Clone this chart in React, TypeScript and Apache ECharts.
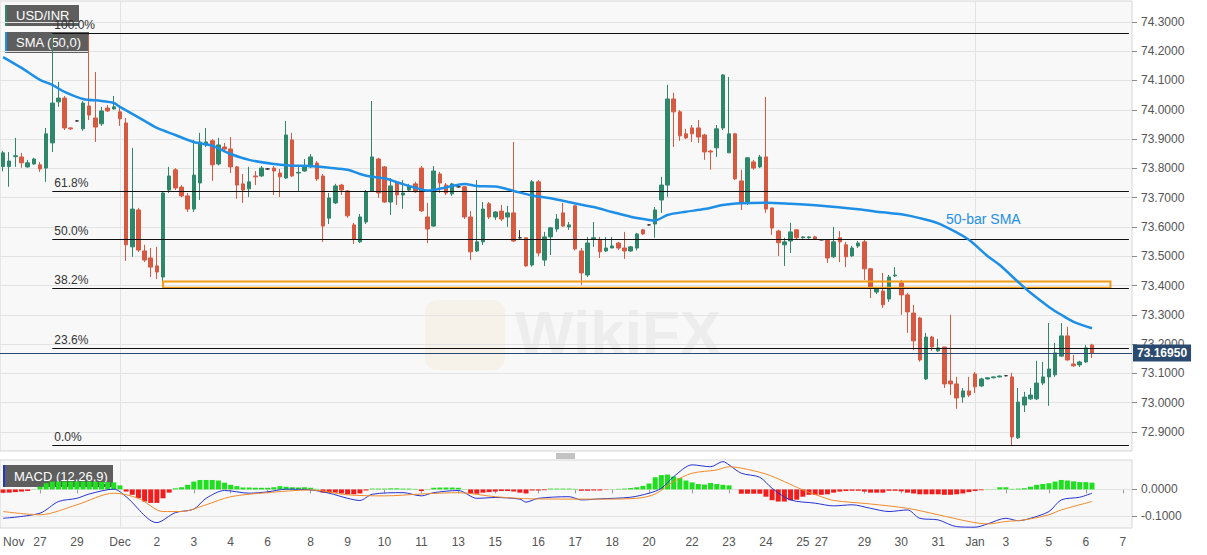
import React, { useEffect, useRef } from 'react';
import * as echarts from 'echarts';

// ---------- data ----------
const dayLabels = ['Nov', '27', '29', 'Dec', '2', '3', '4', '6', '8', '9', '10', '11', '13', '15', '16', '17', '18', '20', '22', '23', '24', '25', '27', '29', '30', '31', 'Jan', '3', '5', '6', '7'];
const dayLabelIdx = [0, 6, 12, 19, 25, 31, 37, 43, 50, 56, 62, 68, 74, 80, 87, 93, 99, 105, 112, 118, 124, 130, 133, 140, 146, 152, 158, 163, 170, 176, 182];

// [open, high, low, close]
const ohlc: number[][] = [
  [73.806, 73.860, 73.790, 73.853], [73.806, 73.856, 73.737, 73.825], [73.840, 73.904, 73.805, 73.843], [73.839, 73.853, 73.802, 73.819],
  [73.805, 73.829, 73.802, 73.819], [73.815, 73.836, 73.812, 73.832], [73.812, 73.822, 73.788, 73.798], [73.801, 73.938, 73.754, 73.918],
  [73.887, 74.261, 73.856, 74.023], [74.027, 74.095, 74.010, 74.040], [74.040, 74.047, 73.931, 73.938], [73.938, 73.941, 73.931, 73.935],
  [73.962, 73.965, 73.960, 73.962], [73.935, 74.030, 73.928, 74.023], [74.013, 74.255, 73.965, 73.982], [73.972, 74.129, 73.890, 73.941],
  [73.952, 74.010, 73.945, 73.996], [74.006, 74.016, 73.993, 73.996], [74.003, 74.047, 74.000, 74.010], [73.993, 74.016, 73.945, 73.969],
  [73.955, 73.972, 73.484, 73.539], [73.532, 73.870, 73.498, 73.661], [73.658, 73.665, 73.515, 73.521], [73.518, 73.539, 73.480, 73.487],
  [73.494, 73.528, 73.429, 73.463], [73.467, 73.532, 73.422, 73.446], [73.429, 73.719, 73.410, 73.716], [73.726, 73.805, 73.716, 73.774],
  [73.795, 73.801, 73.726, 73.733], [73.736, 73.743, 73.702, 73.706], [73.706, 73.716, 73.651, 73.661], [73.661, 73.897, 73.651, 73.777],
  [73.750, 73.921, 73.692, 73.890], [73.880, 73.938, 73.873, 73.890], [73.894, 73.900, 73.757, 73.812], [73.815, 73.904, 73.810, 73.880],
  [73.873, 73.887, 73.860, 73.866], [73.866, 73.907, 73.784, 73.805], [73.805, 73.808, 73.696, 73.743], [73.747, 73.781, 73.682, 73.726],
  [73.730, 73.805, 73.702, 73.754], [73.774, 73.791, 73.743, 73.771], [73.774, 73.808, 73.771, 73.801], [73.798, 73.801, 73.795, 73.798],
  [73.801, 73.808, 73.709, 73.791], [73.784, 73.798, 73.702, 73.771], [73.767, 73.962, 73.764, 73.914], [73.897, 73.921, 73.771, 73.774],
  [73.784, 73.805, 73.723, 73.786], [73.791, 73.832, 73.788, 73.808], [73.805, 73.849, 73.801, 73.839], [73.818, 73.825, 73.757, 73.764],
  [73.774, 73.781, 73.549, 73.603], [73.630, 73.716, 73.610, 73.699], [73.682, 73.747, 73.678, 73.740], [73.743, 73.747, 73.709, 73.726],
  [73.723, 73.726, 73.631, 73.638], [73.607, 73.614, 73.542, 73.559], [73.549, 73.644, 73.545, 73.634], [73.617, 73.726, 73.610, 73.719],
  [73.723, 74.030, 73.719, 73.839], [73.832, 73.836, 73.699, 73.716], [73.805, 73.808, 73.682, 73.685], [73.685, 73.767, 73.641, 73.740],
  [73.750, 73.754, 73.675, 73.709], [73.709, 73.760, 73.662, 73.716], [73.726, 73.747, 73.720, 73.740], [73.747, 73.754, 73.716, 73.720],
  [73.801, 73.808, 73.651, 73.655], [73.634, 73.682, 73.545, 73.593], [73.603, 73.808, 73.600, 73.791], [73.781, 73.788, 73.716, 73.750],
  [73.743, 73.750, 73.709, 73.716], [73.713, 73.750, 73.706, 73.747], [73.737, 73.740, 73.734, 73.737], [73.737, 73.740, 73.627, 73.634],
  [73.634, 73.654, 73.487, 73.515], [73.518, 73.760, 73.515, 73.549], [73.549, 73.685, 73.538, 73.661], [73.679, 73.685, 73.627, 73.634],
  [73.634, 73.654, 73.624, 73.651], [73.654, 73.675, 73.620, 73.627], [73.634, 73.672, 73.600, 73.648], [73.648, 73.890, 73.549, 73.552],
  [73.563, 73.589, 73.560, 73.563], [73.563, 73.563, 73.464, 73.467], [73.470, 73.760, 73.464, 73.754], [73.754, 73.760, 73.500, 73.511],
  [73.487, 73.583, 73.467, 73.566], [73.566, 73.600, 73.504, 73.597], [73.593, 73.644, 73.583, 73.627], [73.648, 73.682, 73.600, 73.603],
  [73.600, 73.617, 73.590, 73.607], [73.672, 73.675, 73.520, 73.525], [73.518, 73.528, 73.402, 73.443], [73.436, 73.566, 73.429, 73.545],
  [73.559, 73.617, 73.532, 73.563], [73.556, 73.566, 73.494, 73.515], [73.518, 73.566, 73.515, 73.528], [73.528, 73.566, 73.528, 73.535],
  [73.545, 73.549, 73.521, 73.528], [73.528, 73.583, 73.491, 73.518], [73.518, 73.535, 73.515, 73.532], [73.528, 73.580, 73.520, 73.576],
  [73.590, 73.593, 73.573, 73.576], [73.607, 73.609, 73.605, 73.607], [73.610, 73.668, 73.563, 73.658], [73.692, 73.771, 73.648, 73.743],
  [73.743, 74.085, 73.702, 74.037], [74.037, 74.058, 73.873, 73.993], [73.993, 73.999, 73.894, 73.911], [73.918, 73.935, 73.900, 73.904],
  [73.938, 73.948, 73.890, 73.918], [73.938, 73.965, 73.887, 73.907], [73.914, 73.918, 73.829, 73.856], [73.859, 73.863, 73.795, 73.856],
  [73.870, 73.948, 73.839, 73.935], [73.938, 74.122, 73.931, 74.119], [73.853, 74.112, 73.853, 73.918], [73.918, 73.921, 73.760, 73.764],
  [73.757, 73.795, 73.658, 73.682], [73.682, 73.839, 73.675, 73.836], [73.822, 73.829, 73.795, 73.801], [73.805, 73.846, 73.801, 73.839],
  [73.839, 74.044, 73.648, 73.661], [73.665, 73.665, 73.573, 73.596], [73.586, 73.590, 73.501, 73.546], [73.539, 73.563, 73.467, 73.549],
  [73.552, 73.614, 73.511, 73.583], [73.590, 73.593, 73.556, 73.563], [73.563, 73.568, 73.560, 73.566], [73.563, 73.568, 73.560, 73.566],
  [73.566, 73.570, 73.556, 73.559], [73.556, 73.558, 73.554, 73.556], [73.556, 73.556, 73.477, 73.494], [73.498, 73.600, 73.494, 73.549],
  [73.563, 73.586, 73.480, 73.549], [73.539, 73.549, 73.463, 73.498], [73.501, 73.535, 73.498, 73.528], [73.535, 73.552, 73.528, 73.545],
  [73.549, 73.556, 73.419, 73.457], [73.457, 73.460, 73.357, 73.392], [73.378, 73.395, 73.371, 73.392], [73.381, 73.443, 73.323, 73.334],
  [73.354, 73.436, 73.344, 73.429], [73.433, 73.463, 73.429, 73.436], [73.409, 73.419, 73.300, 73.368], [73.368, 73.375, 73.238, 73.310],
  [73.306, 73.334, 73.180, 73.211], [73.289, 73.293, 73.140, 73.146], [73.081, 73.238, 73.078, 73.224], [73.224, 73.228, 73.177, 73.190],
  [73.177, 73.218, 73.173, 73.187], [73.190, 73.190, 73.050, 73.064], [73.074, 73.300, 73.026, 73.064], [73.064, 73.088, 72.979, 73.016],
  [73.019, 73.050, 73.000, 73.040], [73.040, 73.088, 73.019, 73.026], [73.098, 73.105, 73.033, 73.054], [73.057, 73.085, 73.054, 73.081],
  [73.081, 73.087, 73.079, 73.085], [73.085, 73.090, 73.083, 73.088], [73.088, 73.093, 73.086, 73.091], [73.092, 73.094, 73.090, 73.092],
  [73.088, 73.102, 72.854, 72.883], [72.880, 73.050, 72.876, 73.002], [72.992, 73.037, 72.968, 73.019], [73.013, 73.050, 73.009, 73.026],
  [73.013, 73.143, 73.009, 73.067], [73.067, 73.139, 73.060, 73.088], [73.088, 73.272, 72.989, 73.115], [73.095, 73.204, 73.088, 73.170],
  [73.159, 73.272, 73.156, 73.228], [73.228, 73.259, 73.143, 73.146], [73.132, 73.163, 73.122, 73.126], [73.129, 73.143, 73.122, 73.139],
  [73.139, 73.197, 73.136, 73.187], [73.197, 73.201, 73.153, 73.1695],
];

const smaIdx = [0, 3, 6, 8, 10, 13, 16, 18, 19, 23, 25, 28, 31, 34, 37, 40, 44, 47, 50, 53, 56, 58, 60, 62, 65, 67, 69, 72, 75, 77, 80, 83, 86, 89, 93, 96, 99, 102, 105, 106, 108, 111, 114, 117, 120, 124, 128, 133, 139, 143, 146, 149, 152, 155, 157, 160, 162, 165, 167, 170, 172, 174, 177];
const smaVal = [74.180, 74.143, 74.102, 74.085, 74.061, 74.037, 74.030, 74.023, 74.010, 73.962, 73.938, 73.914, 73.890, 73.877, 73.849, 73.829, 73.815, 73.809, 73.808, 73.802, 73.795, 73.781, 73.771, 73.766, 73.746, 73.734, 73.724, 73.735, 73.747, 73.740, 73.738, 73.723, 73.707, 73.698, 73.680, 73.668, 73.651, 73.635, 73.624, 73.622, 73.641, 73.652, 73.661, 73.675, 73.681, 73.683, 73.679, 73.672, 73.660, 73.650, 73.643, 73.630, 73.612, 73.581, 73.556, 73.501, 73.470, 73.412, 73.375, 73.327, 73.300, 73.276, 73.254];

const macdIdx = [0, 6, 9, 12, 14, 18, 20, 25, 28, 31, 33, 36, 40, 43, 46, 50, 53, 56, 58, 60, 65, 68, 70, 74, 77, 80, 84, 85, 87, 92, 94, 97, 102, 105, 107, 109, 112, 115, 117, 118, 120, 123, 125, 128, 132, 135, 138, 141, 144, 147, 149, 152, 155, 158, 160, 163, 165, 167, 170, 172, 175, 177];
const macdVal = [-0.107, -0.088, -0.045, -0.033, -0.017, 0.001, -0.027, -0.123, -0.086, -0.073, -0.033, -0.004, -0.014, -0.009, 0.001, -0.002, -0.014, -0.033, -0.041, -0.018, -0.012, -0.024, -0.012, -0.004, -0.033, -0.030, -0.036, -0.047, -0.033, -0.027, -0.039, -0.035, -0.029, -0.014, 0.004, 0.047, 0.091, 0.084, 0.103, 0.091, 0.060, 0.045, 0.004, -0.039, -0.051, -0.061, -0.057, -0.070, -0.082, -0.076, -0.107, -0.113, -0.138, -0.140, -0.128, -0.107, -0.116, -0.107, -0.082, -0.039, -0.029, -0.014];

const signalIdx = [0, 6, 12, 18, 22, 26, 29, 33, 37, 43, 50, 56, 62, 68, 74, 80, 86, 97, 103, 106, 109, 112, 116, 118, 120, 124, 127, 130, 133, 135, 141, 147, 152, 157, 160, 163, 166, 170, 172, 177];
const signalVal = [-0.082, -0.094, -0.057, -0.014, -0.033, -0.082, -0.082, -0.057, -0.027, -0.012, -0.002, -0.020, -0.024, -0.017, -0.012, -0.027, -0.035, -0.036, -0.033, -0.017, 0.029, 0.060, 0.072, 0.084, 0.079, 0.057, 0.029, -0.002, -0.027, -0.041, -0.054, -0.070, -0.094, -0.119, -0.128, -0.119, -0.113, -0.094, -0.076, -0.045];

const histogram = [
  -0.012, -0.012, -0.010, -0.008, -0.006, 0.001, 0.010, 0.023, 0.029, 0.029,
  0.029, 0.029, 0.029, 0.029, 0.029, 0.028, 0.028, 0.027, 0.026, 0.015,
  -0.008, -0.020, -0.032, -0.045, -0.050, -0.050, -0.033, -0.012, 0.004, 0.008,
  0.017, 0.029, 0.035, 0.035, 0.035, 0.033, 0.025, 0.017, 0.012, 0.007,
  0.007, 0.006, 0.006, 0.006, 0.008, 0.012, 0.010, 0.008, 0.007, 0.008,
  0.006, 0.002, -0.012, -0.012, -0.012, -0.015, -0.018, -0.018, -0.015, -0.004,
  0.003, 0.003, 0.003, 0.004, 0.004, 0.003, 0.003, 0.002, -0.006, 0.001,
  0.006, 0.007, 0.007, 0.007, 0.006, 0.001, -0.016, -0.016, -0.012, -0.010,
  -0.008, -0.006, -0.006, -0.008, -0.012, -0.015, -0.004, -0.004, -0.003, 0.003,
  0.003, 0.003, 0.003, 0.002, -0.005, -0.005, -0.004, -0.004, -0.001, 0.001,
  0.002, 0.003, 0.005, 0.008, 0.013, 0.022, 0.045, 0.053, 0.055, 0.048,
  0.042, 0.033, 0.026, 0.020, 0.018, 0.024, 0.020, 0.017, 0.015, 0.000,
  -0.016, -0.016, -0.016, -0.016, -0.027, -0.040, -0.045, -0.045, -0.040, -0.038,
  -0.027, -0.020, -0.020, -0.020, -0.018, -0.012, -0.008, -0.006, -0.005, -0.005,
  -0.008, -0.012, -0.012, -0.012, -0.005, -0.005, -0.007, -0.012, -0.015, -0.018,
  -0.018, -0.018, -0.018, -0.020, -0.020, -0.018, -0.015, -0.010, -0.006, -0.003,
  0.001, 0.001, 0.008, 0.008, 0.002, 0.003, 0.004, 0.010, 0.017, 0.020,
  0.023, 0.029, 0.035, 0.033, 0.030, 0.027, 0.027, 0.025,
];

const priceTicks = [72.9, 73.0, 73.1, 73.2, 73.3, 73.4, 73.5, 73.6, 73.7, 73.8, 73.9, 74.0, 74.1, 74.2, 74.3];
const macdTicks = [-0.1, 0];
const fibLabels = ['100.0%', '61.8%', '50.0%', '38.2%', '23.6%', '0.0%'];
const fibValues = [74.261, 73.7235, 73.5575, 73.3915, 73.186, 72.854];
const zoneTop = 73.414;
const zoneBottom = 73.392;
const lastPrice = 73.1695;
const monthStartIdx = [19, 158];

// ---------- chart ----------
const N = 184;
const FONT = '"Liberation Sans", Arial, sans-serif';
const UP = '#2f876b';
const DOWN = '#d65a42';

function sparse(idx: number[], val: number[]) {
  const a: (number | null)[] = new Array(N).fill(null);
  idx.forEach((i, k) => { a[i] = val[k]; });
  return a;
}

function legendBox(x: number, y: number, w: number, h: number, bar: string, text: string) {
  return {
    type: 'group',
    z: 100,
    children: [
      { type: 'rect', shape: { x, y, width: w, height: h }, style: { fill: 'rgba(80,80,80,0.92)' } },
      { type: 'rect', shape: { x, y, width: 2, height: h }, style: { fill: bar } },
      { type: 'text', x: x + 11, y: y + h / 2, style: { text, fill: '#fff', font: `13px ${FONT}`, verticalAlign: 'middle' } },
    ],
  };
}

export default function App() {
  const ref = useRef<HTMLDivElement>(null);

  useEffect(() => {
    document.body.style.margin = '0';
    if (!ref.current) return;
    const chart = echarts.init(ref.current, null, { renderer: 'svg' });

    const labelMap = new Map<number, string>();
    dayLabelIdx.forEach((i, k) => labelMap.set(i, dayLabels[k]));
    const categories = Array.from({ length: N }, (_, i) =>
      i === 0 ? { value: 'c0', textStyle: { align: 'left' } } : 'c' + i
    );
    const showLabel = (index: number) => labelMap.has(index);

    const candleData = ohlc.map(([o, h, l, c]) => [o, c, l, h]);
    const histData = histogram.map((v) => ({ value: v, itemStyle: { color: v >= 0 ? '#1fe01f' : '#f21c1c' } }));
    const emptyData = new Array(N).fill(null);

    const gridLineStyle = { color: '#e3e3e3', width: 1, type: 'solid' };

    const fibLines = fibValues.map((v, k) => [
      {
        coord: [8, v],
        lineStyle: { color: '#111', width: 1, type: 'solid' },
        label: { show: true, formatter: fibLabels[k], position: 'insideStartTop', color: '#333', fontSize: 12, fontFamily: FONT, distance: 2 },
      },
      { coord: [N - 1, v] },
    ]);

    const option: any = {
      animation: false,
      backgroundColor: '#ffffff',
      textStyle: { fontFamily: FONT },
      grid: [
        { left: -2, top: 1, width: 1134, height: 450, show: true, backgroundColor: '#f8f8f8', borderColor: '#d6d6d6', borderWidth: 1 },
        { left: -2, top: 460, width: 1134, height: 68, show: true, backgroundColor: '#f8f8f8', borderColor: '#d6d6d6', borderWidth: 1 },
      ],
      xAxis: [
        {
          type: 'category', gridIndex: 0, data: categories, boundaryGap: true,
          axisLine: { show: false }, axisTick: { show: false }, axisLabel: { show: false }, splitLine: { show: false },
        },
        {
          type: 'category', gridIndex: 1, data: categories, boundaryGap: true,
          axisLine: { show: false },
          axisTick: { show: true, interval: showLabel, alignWithLabel: true, length: 4, lineStyle: { color: '#999' } },
          axisLabel: {
            show: true, interval: showLabel, color: '#555', fontSize: 12, margin: 8,
            formatter: (_v: string, index: number) => labelMap.get(index) ?? '',
          },
          splitLine: { show: false },
        },
      ],
      yAxis: [
        {
          type: 'value', gridIndex: 0, position: 'right', min: 72.835, max: 74.3714, scale: true,
          axisLine: { show: false },
          axisTick: { show: true, customValues: priceTicks, length: 5, lineStyle: { color: '#888' } },
          axisLabel: { customValues: priceTicks, formatter: (v: number) => v.toFixed(4), color: '#555', fontSize: 12, margin: 9 },
          splitLine: { show: false },
        },
        {
          type: 'value', gridIndex: 1, position: 'right', min: -0.143, max: 0.109,
          axisLine: { show: false },
          axisTick: { show: true, customValues: macdTicks, length: 5, lineStyle: { color: '#888' } },
          axisLabel: { customValues: macdTicks, formatter: (v: number) => v.toFixed(4), color: '#555', fontSize: 12, margin: 9 },
          splitLine: { show: false },
        },
      ],
      series: [
        {
          name: 'gridMain', type: 'line', xAxisIndex: 0, yAxisIndex: 0, data: emptyData, silent: true, z: 1,
          showSymbol: false, lineStyle: { width: 0 },
          markLine: {
            silent: true, z: 1, symbol: ['none', 'none'], animation: false,
            label: { show: false }, lineStyle: gridLineStyle,
            data: [
              ...priceTicks.map((v) => ({ yAxis: v })),
              ...monthStartIdx.map((i) => ({ xAxis: i })),
            ],
          },
        },
        {
          name: 'USD/INR', type: 'candlestick', xAxisIndex: 0, yAxisIndex: 0, data: candleData, z: 2,
          barWidth: 4,
          itemStyle: { color: UP, color0: DOWN, borderColor: UP, borderColor0: DOWN, borderColorDoji: '#333', borderWidth: 1 },
          markArea: {
            silent: true, z: 4,
            itemStyle: { color: 'rgba(0,0,0,0)', borderColor: '#f39a17', borderWidth: 2 },
            data: [[{ coord: [26, zoneTop] }, { coord: [180, zoneBottom] }]],
          },
          markLine: {
            silent: true, z: 5, symbol: ['none', 'none'], animation: false,
            data: [
              ...fibLines,
              {
                yAxis: lastPrice,
                lineStyle: { color: '#2b4a6f', width: 1, type: 'solid' },
                label: {
                  show: true, position: 'end', formatter: '73.16950', color: '#fff', backgroundColor: '#2b4a6f',
                  padding: [3, 4, 2, 4], fontSize: 12, fontWeight: 'bold', fontFamily: FONT, distance: 1,
                },
              },
            ],
          },
        },
        {
          name: 'SMA (50,0)', type: 'line', xAxisIndex: 0, yAxisIndex: 0, data: sparse(smaIdx, smaVal),
          connectNulls: true, smooth: 0.3, showSymbol: false, z: 6,
          lineStyle: { color: '#1e8fe6', width: 2.5 },
        },
        {
          name: 'gridMacd', type: 'line', xAxisIndex: 1, yAxisIndex: 1, data: emptyData, silent: true, z: 1,
          showSymbol: false, lineStyle: { width: 0 },
          markLine: {
            silent: true, z: 1, symbol: ['none', 'none'], animation: false,
            label: { show: false }, lineStyle: gridLineStyle,
            data: [
              ...macdTicks.map((v) => ({ yAxis: v })),
              ...monthStartIdx.map((i) => ({ xAxis: i })),
            ],
          },
        },
        {
          name: 'Histogram', type: 'bar', xAxisIndex: 1, yAxisIndex: 1, data: histData, barWidth: 5, z: 2,
        },
        {
          name: 'MACD', type: 'line', xAxisIndex: 1, yAxisIndex: 1, data: sparse(macdIdx, macdVal),
          connectNulls: true, smooth: 0.3, showSymbol: false, z: 3,
          lineStyle: { color: '#2433d0', width: 1 },
        },
        {
          name: 'Signal', type: 'line', xAxisIndex: 1, yAxisIndex: 1, data: sparse(signalIdx, signalVal),
          connectNulls: true, smooth: 0.3, showSymbol: false, z: 3,
          lineStyle: { color: '#f08a2a', width: 1 },
        },
      ],
      graphic: [
        // faint watermarks
        { type: 'rect', z: 0, silent: true, shape: { x: 425, y: 300, width: 80, height: 70, r: 12 }, style: { fill: 'rgba(240,200,120,0.10)' } },
        { type: 'text', z: 0, silent: true, x: 515, y: 332, style: { text: 'WikiFX', fill: 'rgba(120,105,100,0.07)', font: `bold 62px ${FONT}`, verticalAlign: 'middle' } },
        legendBox(5, 5, 74, 21, UP, 'USD/INR'),
        legendBox(5, 32, 84, 21, '#1e8fe6', 'SMA (50,0)'),
        legendBox(3, 465, 110, 22, '#2433d0', 'MACD (12,26,9)'),
        { type: 'text', z: 100, x: 946, y: 219, style: { text: '50-bar SMA', fill: '#1e8fe6', font: `14px ${FONT}`, verticalAlign: 'middle' } },
        { type: 'line', z: 100, shape: { x1: 556, y1: 454, x2: 575, y2: 454 }, style: { stroke: '#888', lineWidth: 1 } },
        { type: 'line', z: 100, shape: { x1: 556, y1: 456, x2: 575, y2: 456 }, style: { stroke: '#888', lineWidth: 1 } },
        { type: 'line', z: 100, shape: { x1: 556, y1: 458, x2: 575, y2: 458 }, style: { stroke: '#888', lineWidth: 1 } },
      ],
    };

    chart.setOption(option);
    return () => chart.dispose();
  }, []);

  return <div ref={ref} style={{ position: 'absolute', left: 0, top: 0, width: 1207, height: 555 }} />;
}
